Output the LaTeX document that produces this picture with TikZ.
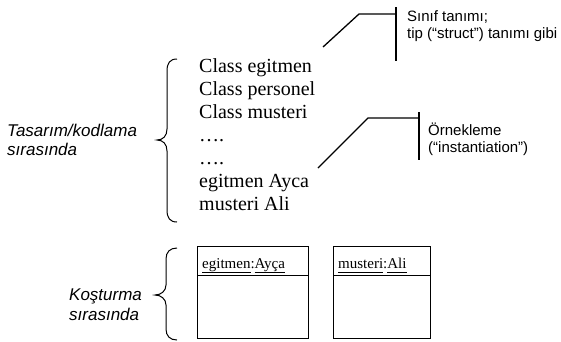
\documentclass[tikz,border=0pt]{standalone}
\usepackage{fontspec}
\setmainfont{Liberation Serif}
\setsansfont{Liberation Sans}
\begin{document}
\begin{tikzpicture}[x=1pt,y=-1pt,
  code/.style={anchor=base west,inner sep=0pt,font=\fontsize{20}{24}\selectfont},
  note/.style={anchor=base west,inner sep=0pt,font=\sffamily\fontsize{15}{17}\selectfont},
  phase/.style={anchor=base west,inner sep=0pt,font=\sffamily\itshape\fontsize{17}{20}\selectfont},
  objlabel/.style={anchor=base west,inner sep=0pt,font=\fontsize{15}{18}\selectfont},
  callout/.style={line width=1.3pt},
  bracestyle/.style={line width=1pt},
  objbox/.style={draw,line width=0.8pt}]
\useasboundingbox (0,0) rectangle (561,341);

% code lines
\node[code] (l1) at (199,72) {Class egitmen};
\node[code] (l2) at (199,95) {Class personel};
\node[code] (l3) at (199,118) {Class musteri};
\node[code] (l4) at (199,141) {….};
\node[code] (l5) at (199,164) {….};
\node[code] (l6) at (199,187) {egitmen Ayca};
\node[code] (l7) at (199,210) {musteri Ali};

% phase labels
\node[phase] (p1a) at (7,136) {Tasarım/kodlama};
\node[phase] (p1b) at (7,155) {sırasında};
\node[phase] (p2a) at (69,300) {Koşturma};
\node[phase] (p2b) at (69,320) {sırasında};

% braces
\draw[bracestyle] (177,59) .. controls (170,59) and (167,63) .. (167,71) -- (167,129)
  .. controls (167,136) and (163,140) .. (157,140)
  .. controls (163,140) and (167,144) .. (167,151) -- (167,210)
  .. controls (167,218) and (170,222) .. (177,222);
\draw[bracestyle] (177,248) .. controls (170,248) and (166,252) .. (166,259) -- (166,285)
  .. controls (166,291) and (161,295) .. (155,295)
  .. controls (161,295) and (166,299) .. (166,305) -- (166,329)
  .. controls (166,336) and (170,340) .. (177,340);

% callout 1
\coordinate (c1a) at (323,47);
\coordinate (c1b) at (359,14);
\coordinate (c1c) at (396,14);
\coordinate (b1t) at (396,7);
\coordinate (b1b) at (396,61);
\draw[callout] (c1a) -- (c1b) -- (c1c);
\draw[callout] (b1t) -- (b1b);
\node[note] (n1a) at (407,21) {Sınıf tanımı;};
\node[note] (n1b) at (407,38) {tip (“struct”) tanımı gibi};

% callout 2
\coordinate (c2a) at (318,168);
\coordinate (c2b) at (368,118);
\coordinate (c2c) at (419,118);
\coordinate (b2t) at (419,112);
\coordinate (b2b) at (419,160);
\draw[callout] (c2a) -- (c2b) -- (c2c);
\draw[callout] (b2t) -- (b2b);
\node[note] (n2a) at (428,135) {Örnekleme};
\node[note] (n2b) at (428,152) {(“instantiation”)};

% object boxes
\draw[objbox] (197,246) rectangle (308,338);
\draw[objbox] (197,275) -- (308,275);
\node[objlabel] (o1) at (202,268) {\underline{egitmen\vphantom{gy}}:\underline{Ayça\vphantom{gy}}};
\draw[objbox] (333,246) rectangle (430,338);
\draw[objbox] (333,275) -- (430,275);
\node[objlabel] (o2) at (338,268) {\underline{musteri\vphantom{gy}}:\underline{Ali\vphantom{gy}}};
\end{tikzpicture}
\end{document}
